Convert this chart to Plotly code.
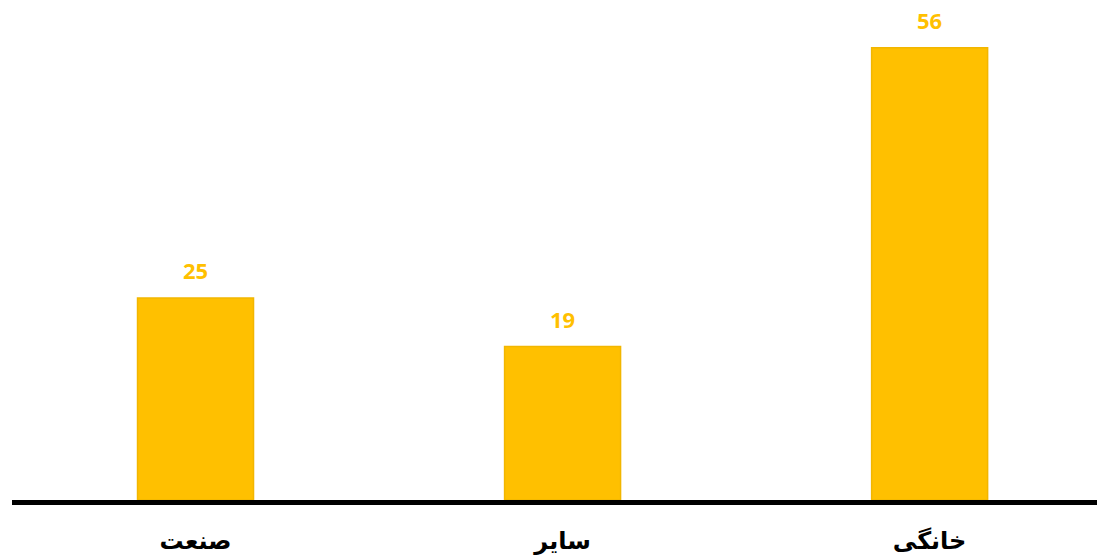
import plotly.graph_objects as go

categories = ["صنعت", "سایر", "خانگی"]
values = [25, 19, 56]
value_labels = ["25", "19", "56"]

bar_color = "#FFC000"
edge_color = "#F2B600"

fig = go.Figure()
fig.add_trace(go.Bar(
    x=categories,
    y=values,
    width=0.316,
    marker=dict(color=bar_color, line=dict(color=edge_color, width=1.5)),
    hoverinfo="skip",
))

for c, v, t in zip(categories, values, value_labels):
    fig.add_annotation(
        x=c, y=v, text=f"<b>{t}</b>", showarrow=False,
        yanchor="bottom", yshift=11,
        font=dict(family="Open Sans", size=22, color=bar_color),
    )

fig.update_layout(
    width=1097, height=557,
    margin=dict(l=12, r=0, t=0, b=57, autoexpand=False),
    paper_bgcolor="white", plot_bgcolor="white",
    showlegend=False,
    xaxis=dict(
        range=[-0.5, 2.456],
        showline=True, linecolor="black", linewidth=5,
        showgrid=False, zeroline=False,
        ticks="outside", ticklen=15, tickcolor="rgba(0,0,0,0)",
        tickfont=dict(family="DejaVu Sans", size=24, color="black"),
        tickvals=categories,
        ticktext=[f"<b>{c}</b>" for c in categories],
    ),
    yaxis=dict(
        range=[0, 61.9], visible=False, showgrid=False, zeroline=False,
    ),
)

fig.write_html(
    "out.html",
    config={"displayModeBar": False},
    post_script="document.body.style.margin='0';document.body.style.overflow='hidden';",
)
